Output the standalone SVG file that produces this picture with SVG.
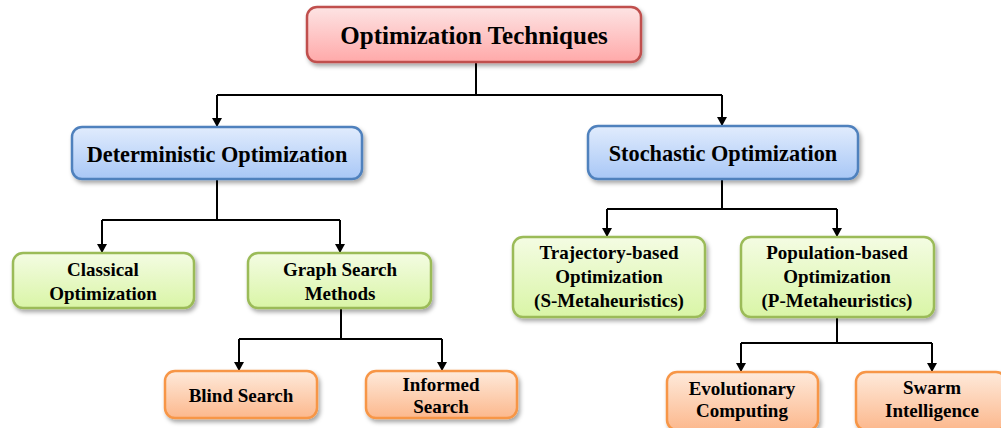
<svg xmlns="http://www.w3.org/2000/svg" width="1001" height="428" viewBox="0 0 1001 428">
<defs>
<style>
.t{font-family:"Liberation Serif","Times New Roman",serif;font-weight:bold;fill:#000;text-anchor:middle}
.f24{font-size:25px}.f22{font-size:22.3px}.f19{font-size:19px}
.c{fill:none;stroke:#000;stroke-width:2}
.box{stroke-width:2.5;filter:url(#sh)}
.red{fill:url(#gr);stroke:#c0504d}
.blue{fill:url(#gb);stroke:#4f81bd}
.green{fill:url(#gg);stroke:#9bbb59}
.orange{fill:url(#go);stroke:#f79646}
</style>
<filter id="sh" x="-10%" y="-20%" width="130%" height="150%">
<feDropShadow dx="2" dy="3" stdDeviation="2" flood-color="#000" flood-opacity="0.35"/>
</filter>
<linearGradient id="gr" x1="0" y1="0" x2="0" y2="1"><stop offset="0" stop-color="#fde4e4"/><stop offset="1" stop-color="#ffa9a9"/></linearGradient>
<linearGradient id="gb" x1="0" y1="0" x2="0" y2="1"><stop offset="0" stop-color="#e1ecfd"/><stop offset="1" stop-color="#a8c7f6"/></linearGradient>
<linearGradient id="gg" x1="0" y1="0" x2="0" y2="1"><stop offset="0" stop-color="#f4fce3"/><stop offset="1" stop-color="#d9f5a6"/></linearGradient>
<linearGradient id="go" x1="0" y1="0" x2="0" y2="1"><stop offset="0" stop-color="#feeadb"/><stop offset="1" stop-color="#fcb88d"/></linearGradient>
<marker id="ah" markerUnits="userSpaceOnUse" markerWidth="9" markerHeight="10" refX="9" refY="5" orient="auto" viewBox="0 0 9 10">
<path d="M0,0 L9,5 L0,10 z" fill="#000"/>
</marker>
</defs>
<g id="connectors">
<path class="c" d="M476,62 V95 M217,95 H722"/>
<path class="c" d="M217,95 V127" marker-end="url(#ah)"/>
<path class="c" d="M722,95 V126" marker-end="url(#ah)"/>
<path class="c" d="M217,179 V220 M102,220 H340"/>
<path class="c" d="M102,220 V253" marker-end="url(#ah)"/>
<path class="c" d="M340,220 V253" marker-end="url(#ah)"/>
<path class="c" d="M341,308 V339 M239,339 H442"/>
<path class="c" d="M239,339 V371" marker-end="url(#ah)"/>
<path class="c" d="M442,339 V371" marker-end="url(#ah)"/>
<path class="c" d="M722,179 V209 M607,209 H837"/>
<path class="c" d="M607,209 V237" marker-end="url(#ah)"/>
<path class="c" d="M837,209 V237" marker-end="url(#ah)"/>
<path class="c" d="M837,317 V343 M741,343 H932"/>
<path class="c" d="M741,343 V372" marker-end="url(#ah)"/>
<path class="c" d="M932,343 V372" marker-end="url(#ah)"/>
</g>
<g id="n-root">
<rect class="box red" x="307" y="7" width="334" height="55" rx="10"/>
<text class="t f24" x="474" y="44">Optimization Techniques</text>
</g>
<g id="n-det">
<rect class="box blue" x="72" y="127" width="290" height="52" rx="10"/>
<text class="t f22" x="217" y="162">Deterministic Optimization</text>
</g>
<g id="n-sto">
<rect class="box blue" x="588" y="126" width="270" height="53" rx="10"/>
<text class="t f22" x="723" y="161">Stochastic Optimization</text>
</g>
<g id="n-classical">
<rect class="box green" x="13" y="253" width="181" height="55" rx="10"/>
<text class="t f19" x="103" y="276">Classical</text>
<text class="t f19" x="103" y="300">Optimization</text>
</g>
<g id="n-graph">
<rect class="box green" x="248" y="253" width="183" height="55" rx="10"/>
<text class="t f19" x="340" y="276">Graph Search</text>
<text class="t f19" x="340" y="300">Methods</text>
</g>
<g id="n-traj">
<rect class="box green" x="513" y="237" width="192" height="80" rx="10"/>
<text class="t f19" x="609" y="259">Trajectory-based</text>
<text class="t f19" x="609" y="283">Optimization</text>
<text class="t f19" x="609" y="307">(S-Metaheuristics)</text>
</g>
<g id="n-pop">
<rect class="box green" x="741" y="237" width="193" height="80" rx="10"/>
<text class="t f19" x="837" y="259">Population-based</text>
<text class="t f19" x="837" y="283">Optimization</text>
<text class="t f19" x="837" y="307">(P-Metaheuristics)</text>
</g>
<g id="n-blind">
<rect class="box orange" x="165" y="371" width="152" height="47" rx="10"/>
<text class="t f19" x="241" y="402">Blind Search</text>
</g>
<g id="n-informed">
<rect class="box orange" x="366" y="371" width="151" height="47" rx="10"/>
<text class="t f19" x="441" y="391">Informed</text>
<text class="t f19" x="441" y="413">Search</text>
</g>
<g id="n-evo">
<rect class="box orange" x="667" y="372" width="151" height="58" rx="10"/>
<text class="t f19" x="742" y="395">Evolutionary</text>
<text class="t f19" x="742" y="417">Computing</text>
</g>
<g id="n-swarm">
<rect class="box orange" x="856" y="372" width="150" height="58" rx="10"/>
<text class="t f19" x="932" y="394">Swarm</text>
<text class="t f19" x="932" y="417">Intelligence</text>
</g>
</svg>
